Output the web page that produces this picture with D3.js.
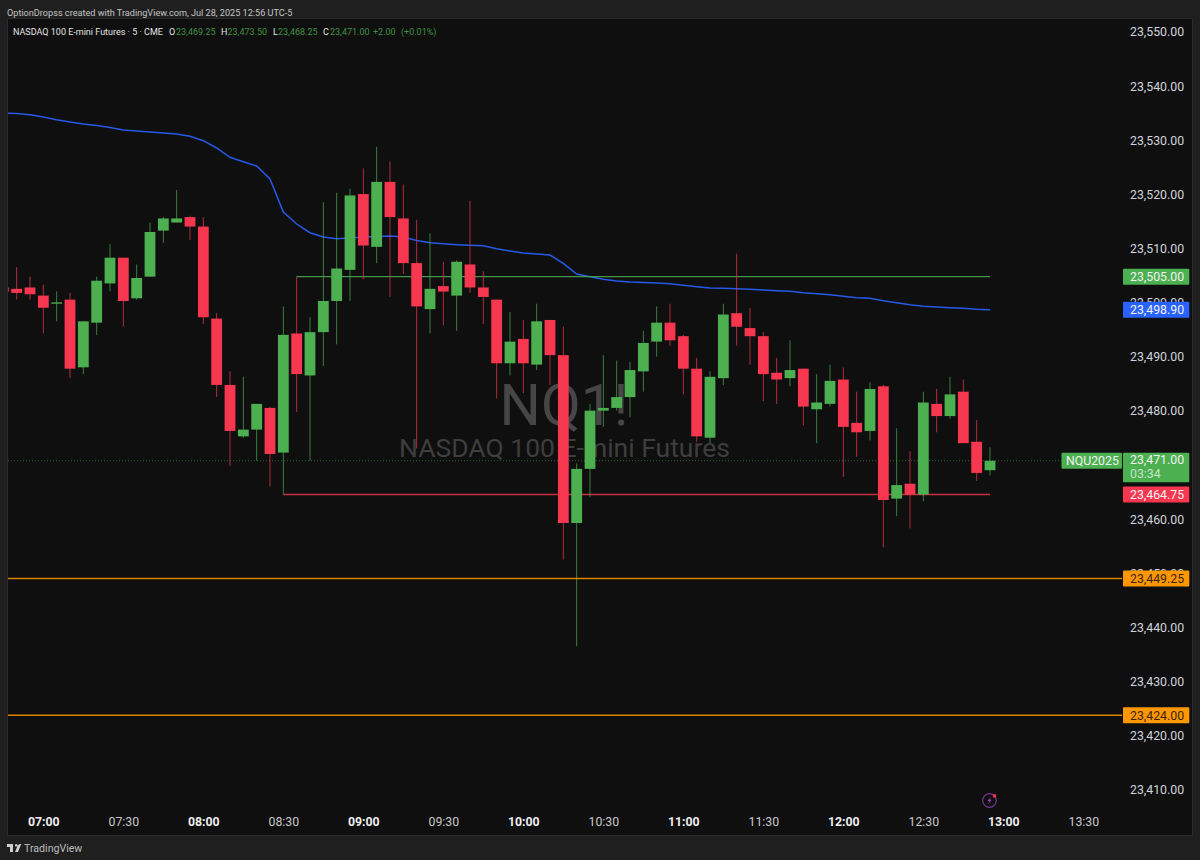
<!DOCTYPE html>
<html><head><meta charset="utf-8">
<script src="https://cdn.jsdelivr.net/npm/d3@7/dist/d3.min.js"></script>
<style>
html,body{margin:0;padding:0;background:#1f1f1f;overflow:hidden}
svg{display:block}
text{font-family:Roboto,"Noto Sans",sans-serif}
</style></head><body>
<svg id="c" width="1200" height="860"></svg>
<script>
const PRICE_BASE = 23000;
const opens = [503,502.75,503,501.5,500,500.75,488.25,496.5,503.75,508.5,501,505,513.5,515,516,514.25,497.25,485,475.5,476.75,480.75,472.5,494.5,486.75,494.75,500.5,506.25,520.25,510.5,522.5,515.75,507.5,499,503.25,501.5,507.25,503,500.75,489,493.5,488.75,497,490.5,459.5,469.5,480.25,480.75,482.75,487.5,493,496.5,494,488,475.25,486.25,498.25,495.5,494,487.25,486.25,488,480.5,481.5,486,478,476.5,484.75,464,466.75,464.75,481.5,479.25,483.75,474.5,469.25].map(v=>PRICE_BASE+v);
const highs = [503.5,506.75,505,503.5,502.25,502,496.75,505,511,508.5,507.25,515,516,521,516.25,516,498.25,487.5,486.5,481.5,481,499.5,505,497.5,518.75,520.5,521.25,525,529,526.25,522,515.5,513,507.75,508,519,506,500.75,498.5,497,500,497,495.75,470.5,481.5,490.5,489.5,489.25,495,499.5,500,494.25,490,487.5,500,509.25,499.25,494.75,490,493.25,488,487,488.75,488.25,483.75,485.5,485,477,472.75,483.75,484.25,486.5,486,478.5,473.5].map(v=>PRICE_BASE+v);
const lows = [502,500.75,500.75,494.5,496.75,486.25,487,494.25,502.25,495.75,500.75,505,511.25,515,511.75,496.25,482.75,470,475.25,471,466.25,464.75,480,471,488.5,492.5,500.5,504.5,507.5,501.25,505.5,473.25,494.5,496,495,502,496.25,482.5,486.75,483.5,487.75,485,452.75,436.75,464.25,477.25,480.25,479,483.75,490.25,492.25,483.25,474.5,474.25,485,492.25,488.75,482,481.5,484.75,477.5,474.25,481,468,471.75,474.75,455,460.75,458.5,463.5,476.25,478.75,474.25,467.25,468.25].map(v=>PRICE_BASE+v);
const closes = [502.25,502,501.75,499.25,500.25,488,496.75,504.25,508.5,500.5,504.75,513.25,515.75,515.75,514.25,497.5,485,476.5,476.75,481.5,472.25,494.25,487,494.75,500.5,506.5,520,510.75,522.5,516,507.5,499.5,502.75,502.25,507.75,503,501.25,489,493,489,496.75,490.5,459.5,469.5,480.25,480.75,482.75,487.75,492.75,496.5,493.25,488,475.5,486.5,498,495.75,494,487,486,487.75,481,481.75,485.75,477.25,476.25,484.25,463.75,466.5,464.75,481.75,479.25,483.25,474.25,468.75,471].map(v=>PRICE_BASE+v);
const vwap = [535.19,535.13,534.91,534.48,533.98,533.56,533.19,532.91,532.54,532.08,531.9,531.71,531.53,531.34,530.92,530.11,528.76,527.04,526.23,525.43,523.03,516.94,514.72,513.11,512.32,512,512.13,512.32,512.41,512.5,512.32,511.67,511.27,511.06,510.9,510.79,510.71,510.16,509.73,509.36,509.18,508.99,507.46,505.49,504.99,504.5,504.19,504.01,503.92,503.82,503.69,503.4,503.14,502.9,502.84,502.77,502.66,502.53,502.4,502.29,502.03,501.85,501.66,501.37,501.11,500.99,500.55,500.18,499.81,499.52,499.39,499.26,499.15,498.97,498.9].map(v=>PRICE_BASE+v);
const priceTicks = [23550,23540,23530,23520,23510,23500,23490,23480,23460,23450,23440,23430,23420,23410];
const timeTicks = [0,30,60,90,120,150,180,210,240,270,300,330,360,390];
const timeLabels = ["07:00","07:30","08:00","08:30","09:00","09:30","10:00","10:30","11:00","11:30","12:00","12:30","13:00","13:30"];
const boldTimes = ["07:00","08:00","09:00","10:00","11:00","12:00","13:00"];
const firstBarMinutes = -15, barStep = 5;
const greenLevel = {price:23505, startBar:22};
const redLevel = {price:23464.75, startBar:21};
const orangeLevels = [23449.25, 23424];
const lastClose = 23471, vwapLast = 23498.9;
const headerText = "OptionDropss created with TradingView.com, Jul 28, 2025 12:56 UTC-5";
const titleText = "NASDAQ 100 E-mini Futures · 5 · CME";

const GREEN="#4CAF50", RED="#F7374F", ORANGE="#FF9800", BLUE="#2962FF";
const svg=d3.select("#c");
const minutes=opens.map((_,i)=>firstBarMinutes+i*barStep);
const x=d3.scaleLinear().domain([0,390]).range([43.33,1083.33]);
const y=d3.scaleLinear().domain([23410,23550]).range([791,33]);
const plot={l:8,r:1192,t:19,b:835,axis:1122};
const FS=12.3;

svg.append("rect").attr("width",1200).attr("height",860).attr("fill","#1f1f1f");
svg.append("rect").attr("x",plot.l-1).attr("y",plot.t-1).attr("width",plot.r-plot.l+2).attr("height",plot.b-plot.t+2).attr("fill","#2a2a2a");
svg.append("rect").attr("x",plot.l).attr("y",plot.t).attr("width",plot.r-plot.l).attr("height",plot.b-plot.t).attr("fill","#0f0f0f");
svg.append("clipPath").attr("id","pc").append("rect").attr("x",plot.l).attr("y",plot.t).attr("width",plot.axis-plot.l).attr("height",plot.b-plot.t);

// header
svg.append("text").attr("x",7).attr("y",15.5).attr("font-size",9.15).attr("fill","#c4c4c4").text(headerText);
const legend=svg.append("g").attr("font-size",9);
legend.append("text").attr("x",13).attr("y",34.5).attr("fill","#e4e4e4").text(titleText);
[["O",169,"#e4e4e4"],["23,469.25",176,GREEN],["H",221,"#e4e4e4"],["23,473.50",227.5,GREEN],["L",273,"#e4e4e4"],["23,468.25",278,GREEN],["C",323,"#e4e4e4"],["23,471.00",330,GREEN],["+2.00",373,GREEN],["(+0.01%)",401,GREEN]]
 .forEach(([t,px,c])=>legend.append("text").attr("x",px).attr("y",34.5).attr("fill",c).attr("opacity",c===GREEN?.8:1).text(t));

// watermark
svg.append("text").attr("x",564).attr("y",425).attr("text-anchor","middle").attr("font-size",58).attr("fill","#464646").text("NQ1!");
svg.append("text").attr("x",564.5).attr("y",457).attr("text-anchor","middle").attr("font-size",26.5).attr("fill","#3e3e3e").text("NASDAQ 100 E-mini Futures");

const main=svg.append("g").attr("clip-path","url(#pc)");
// last price dotted line
main.append("line").attr("x1",plot.l).attr("x2",plot.axis).attr("y1",y(lastClose)).attr("y2",y(lastClose))
  .attr("stroke",GREEN).attr("stroke-opacity",.5).attr("stroke-dasharray","1 2");

// vwap
main.append("path").datum(vwap).attr("fill","none").attr("stroke",BLUE).attr("stroke-opacity",.9).attr("stroke-width",1.5)
  .attr("d",d3.line().x((_,i)=>x(minutes[i])).y(d=>y(d)));

// levels
main.append("line").attr("x1",x(minutes[greenLevel.startBar])).attr("x2",x(minutes[minutes.length-1])).attr("y1",y(greenLevel.price)).attr("y2",y(greenLevel.price)).attr("stroke",GREEN).attr("stroke-width",1.4).attr("stroke-opacity",.85);
main.append("line").attr("x1",x(minutes[redLevel.startBar])).attr("x2",x(minutes[minutes.length-1])).attr("y1",y(redLevel.price)).attr("y2",y(redLevel.price)).attr("stroke",RED).attr("stroke-width",1.4).attr("stroke-opacity",.8);

// candles
const bars=opens.map((o,i)=>({t:minutes[i],o,h:highs[i],l:lows[i],c:closes[i]}));
const col=d=>d.c>=d.o?GREEN:RED;
const g=main.selectAll("g.b").data(bars).join("g").attr("class","b");
g.append("line").attr("x1",d=>x(d.t)).attr("x2",d=>x(d.t)).attr("y1",d=>y(d.h)).attr("y2",d=>y(d.l))
  .attr("stroke",col).attr("stroke-opacity",.7).attr("stroke-width",1);
g.append("rect").attr("x",d=>x(d.t)-5.4).attr("width",10.8)
  .attr("y",d=>y(Math.max(d.o,d.c))).attr("height",d=>Math.max(1,Math.abs(y(d.o)-y(d.c))))
  .attr("fill",col);

// orange levels
main.selectAll("line.or").data(orangeLevels).join("line").attr("class","or")
  .attr("x1",plot.l).attr("x2",plot.axis).attr("y1",d=>y(d)).attr("y2",d=>y(d)).attr("stroke",ORANGE).attr("stroke-width",1.5).attr("stroke-opacity",.85);

// price axis: 23,500 and 23,450 sit partly under tags, as in the reference
const yAxis=svg.append("g").attr("transform","translate(1130,-1)")
  .call(d3.axisRight(y).tickValues(priceTicks).tickFormat(d3.format(",.2f")).tickSize(0).tickPadding(0));
yAxis.select(".domain").remove();
yAxis.selectAll("text").attr("font-size",FS).attr("fill","#d1d4dc").attr("font-family","Roboto,sans-serif");

// time axis
const xAxis=svg.append("g").attr("transform","translate(0,817)")
  .call(d3.axisBottom(x).tickValues(timeTicks).tickFormat((_,i)=>timeLabels[i]).tickSize(0).tickPadding(0));
xAxis.select(".domain").remove();
xAxis.selectAll("text").attr("font-size",FS).attr("font-family","Roboto,sans-serif")
  .attr("font-weight",(_,i)=>boldTimes.includes(timeLabels[i])?700:400)
  .attr("fill",(_,i)=>boldTimes.includes(timeLabels[i])?"#eeeeee":"#c8c8c8");

// price labels
function tag(price,bg,fg,txt){
  const cy=y(price);
  svg.append("rect").attr("x",1123).attr("y",cy-8).attr("width",66.3).attr("height",16).attr("rx",1).attr("fill",bg);
  svg.append("text").attr("x",1130).attr("y",cy+4.3).attr("font-size",FS).attr("fill",fg).text(txt);
}
const fmt=d3.format(",.2f");
tag(greenLevel.price,GREEN,"#f2f2f2",fmt(greenLevel.price));
tag(vwapLast,BLUE,"#f2f2f2",fmt(vwapLast));
tag(redLevel.price,RED,"#f2f2f2",fmt(redLevel.price));
orangeLevels.forEach(p=>tag(p,ORANGE,"#3a2410",fmt(p)));
const ly=y(lastClose);
svg.append("rect").attr("x",1123).attr("y",ly-8).attr("width",66.3).attr("height",29.5).attr("rx",1).attr("fill",GREEN);
svg.append("text").attr("x",1130).attr("y",ly+3.6).attr("font-size",FS).attr("fill","#f2f2f2").text(fmt(lastClose));
svg.append("text").attr("x",1130).attr("y",ly+17).attr("font-size",FS).attr("fill","#c5e5c7").text("03:34");
svg.append("rect").attr("x",1061.5).attr("y",ly-8).attr("width",60.5).attr("height",16).attr("rx",1).attr("fill",GREEN);
svg.append("text").attr("x",1066).attr("y",ly+4.3).attr("font-size",FS).attr("fill","#f2f2f2").text("NQU2025");

// session break icon
const ic=svg.append("g").attr("transform","translate(989.5,800.5)");
ic.append("circle").attr("r",6.8).attr("fill","none").attr("stroke","#7a3396").attr("stroke-width",1.2);
ic.append("path").attr("d","M1.5,-3.5 L-2.2,0.6 L-0.2,0.6 L-1.5,3.5 L2.2,-0.8 L0.2,-0.8 Z").attr("fill","#a045bd");
ic.append("circle").attr("cx",5).attr("cy",-4.6).attr("r",1.8).attr("fill","#F23645");

// footer logo
svg.append("path").attr("transform","translate(7,844)").attr("fill","#cfcfcf")
  .attr("d","M0,0 H6 V8 H3 V3 H0 Z M9.2,0 A1.3,1.3 0 1 1 9.19,0 Z M13,0 H14.2 L11,8 H8 L10.8,1.2 Z");
svg.append("text").attr("x",24).attr("y",851.5).attr("font-size",10.6).attr("fill","#bdbdbd").text("TradingView");
</script></body></html>
